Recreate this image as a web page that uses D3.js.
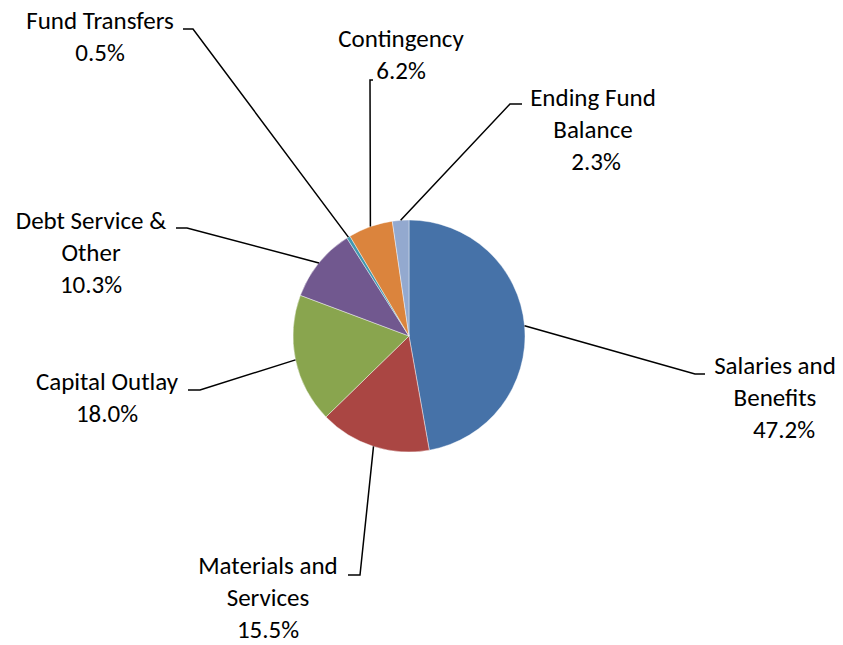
<!DOCTYPE html>
<html>
<head>
<meta charset="utf-8">
<script src="https://cdn.jsdelivr.net/npm/d3@7"></script>
<style>
  html, body { margin: 0; padding: 0; background: #fff; }
  svg { display: block; }
  .lbl { font-family: Calibri, Carlito, Lato, "Open Sans", sans-serif; font-size: 25px; fill: #000; }
</style>
</head>
<body>
<svg id="chart" width="843" height="645"></svg>
<script>
// Budget shares, clockwise from 12 o'clock
const categories = [
  "Salaries and Benefits",
  "Materials and Services",
  "Capital Outlay",
  "Debt Service & Other",
  "Fund Transfers",
  "Contingency",
  "Ending Fund Balance"
];
const shares = [47.2, 15.5, 18.0, 10.3, 0.5, 6.2, 2.3];

// Label text broken into lines
const labelLines = [
  ["Salaries and", "Benefits"],
  ["Materials and", "Services"],
  ["Capital Outlay"],
  ["Debt Service &", "Other"],
  ["Fund Transfers"],
  ["Contingency"],
  ["Ending Fund", "Balance"]
];

const colors = ["#4672A8", "#AA4643", "#89A54E", "#71588F", "#4198AF", "#DB843D", "#93A9CF"];

// Label layout: text centre x, first baseline y, shift of the percentage row,
// leader elbow and end of the short tail
const labelLayout = [
  { cx: 775, y: 374, pctDx: 9, elbow: [695, 374], tail: [705, 374] },
  { cx: 268, y: 574, pctDx: 0, elbow: [360, 575], tail: [348, 575] },
  { cx: 107, y: 390, pctDx: 0, elbow: [200, 390], tail: [188, 390] },
  { cx: 91,  y: 229, pctDx: 0, elbow: [187, 228], tail: [176, 228] },
  { cx: 100, y: 29,  pctDx: 0, elbow: [193, 29],  tail: [183, 29] },
  { cx: 401, y: 47,  pctDx: 0, elbow: [370, 80],  tail: [373, 80] },
  { cx: 593, y: 106, pctDx: 3, elbow: [510, 104], tail: [522, 104] }
];

const lineGap = 32;
const cx = 409, cy = 336, radius = 116;

const svg = d3.select("#chart");
const g = svg.append("g").attr("transform", `translate(${cx},${cy})`);

const data = categories.map((c, i) => ({ name: c, value: shares[i], i }));

const pie = d3.pie().value(d => d.value).sort(null);
const arc = d3.arc().innerRadius(0).outerRadius(radius);
const arcs = pie(data);

g.selectAll("path.slice")
  .data(arcs)
  .join("path")
  .attr("class", "slice")
  .attr("d", arc)
  .attr("fill", d => colors[d.data.i])
  .attr("stroke", "rgba(255,255,255,0.6)")
  .attr("stroke-width", 0.7);

// Leader lines from the slice rim to the label
const fmt = d3.format(".1f");
const lines = svg.append("g");
arcs.forEach(a => {
  const mid = (a.startAngle + a.endAngle) / 2;
  const sx = cx + radius * Math.sin(mid);
  const sy = cy - radius * Math.cos(mid);
  const L = labelLayout[a.data.i];
  lines.append("polyline")
    .attr("points", [[sx, sy], L.elbow, L.tail].map(p => p.join(",")).join(" "))
    .attr("fill", "none")
    .attr("stroke", "#000")
    .attr("stroke-width", 1.5);
});

// Labels: category name lines followed by the percentage
const labels = svg.append("g");
arcs.forEach(a => {
  const L = labelLayout[a.data.i];
  const names = labelLines[a.data.i];
  const rows = names.concat([fmt(a.data.value) + "%"]);
  const t = labels.append("text")
    .attr("class", "lbl")
    .attr("text-anchor", "middle");
  rows.forEach((r, k) => {
    const isPct = k === names.length;
    t.append("tspan")
      .attr("x", L.cx + (isPct ? L.pctDx : 0))
      .attr("y", L.y + k * lineGap)
      .text(r);
  });
});
</script>
</body>
</html>
